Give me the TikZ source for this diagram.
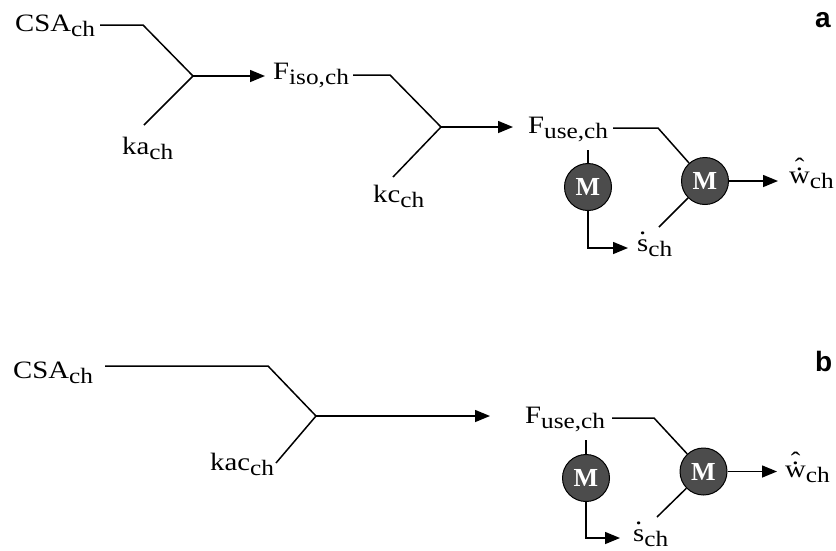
\documentclass[tikz,border=0pt]{standalone}
\usepackage{fontspec}
\setmainfont{Liberation Serif}
\newfontfamily\lbl{Liberation Serif}[FakeStretch=1.15]
\newfontfamily\mfont{Liberation Serif}
\newfontfamily\panelfont{Liberation Sans}
\usetikzlibrary{arrows.meta}

% subscript set in a slightly smaller size, dropped below the baseline
\newcommand\sbs[1]{\raisebox{-5pt}{\fontsize{22}{22}\selectfont #1}}
% s with a dot above
\newcommand\sdot{\ooalign{s\cr\hidewidth\raisebox{17pt}{.}\hidewidth\cr}}
% w with a dot and a hat above
\newcommand\wdothat{\ooalign{w\cr\hidewidth\raisebox{13pt}{.}\hidewidth\cr\hidewidth\raisebox{8pt}{\char"02C6}\hidewidth\cr}}

\tikzset{
  lab/.style={inner sep=0pt, anchor=base west, font=\lbl\fontsize{25}{25}\selectfont},
  panel/.style={inner sep=0pt, anchor=base west, font=\panelfont\bfseries\fontsize{28}{28}\selectfont},
  mod/.style={circle, draw=black, line width=1pt, fill=black!70, minimum size=47pt, inner sep=0pt,
              text=white, font=\mfont\bfseries\fontsize{26}{26}\selectfont},
  wire/.style={line width=1.5pt},
  flow/.style={wire, -{Triangle[length=15pt,width=12pt]}},
}

\begin{document}
\begin{tikzpicture}[x=1pt,y=-1pt]
\useasboundingbox (0,0) rectangle (836,550);

% ---------------- panel a ----------------
\node[panel] (pa) at (815,27) {a};
\node[lab] (csaA) at (15,31) {CSA\sbs{ch}};
\node[lab] (kaA) at (122,154) {ka\sbs{ch}};
\node[lab] (fisoA) at (273,79) {F\sbs{iso,ch}};
\node[lab] (kcA) at (373,202) {kc\sbs{ch}};
\node[lab] (fuseA) at (528,133) {F\sbs{use,ch}};
\node[lab] (sA) at (637,251) {\sdot\sbs{ch}};
\node[lab] (wA) at (789,183) {\wdothat\sbs{ch}};
\node[mod] (m1) at (588,187) {M};
\node[mod] (m2) at (705,181) {M};

\coordinate (csaAout) at (100,25);
\coordinate (csaAbend) at (143,25);
\coordinate (j1) at (193,76);
\coordinate (kaAout) at (144,125);
\coordinate (fisoAin) at (265,76);
\coordinate (fisoAout) at (353,75);
\coordinate (fisoAbend) at (390,75);
\coordinate (j2) at (441,127);
\coordinate (kcAout) at (393,177);
\coordinate (fuseAin) at (513,127);
\coordinate (fuseAout) at (613,128);
\coordinate (fuseAbend) at (658,128);
\coordinate (fuseAtick) at (588,150);
\coordinate (m1corner) at (588,248);
\coordinate (sAin) at (628,248);
\coordinate (sAout) at (659,227);
\coordinate (wAin) at (778,181);

\draw[wire] (csaAout) -- (csaAbend) -- (j1);
\draw[wire] (kaAout) -- (j1);
\draw[flow] (j1) -- (fisoAin);
\draw[wire] (fisoAout) -- (fisoAbend) -- (j2);
\draw[wire] (kcAout) -- (j2);
\draw[flow] (j2) -- (fuseAin);
\draw[wire] (fuseAout) -- (fuseAbend) -- (m2);
\draw[wire] (fuseAtick) -- (m1.north);
\draw[flow] (m1.south) -- (m1corner) -- (sAin);
\draw[wire] (sAout) -- (m2);
\draw[flow] (m2.east) -- (wAin);

% ---------------- panel b ----------------
\node[panel] (pb) at (815,371) {b};
\node[lab] (csaB) at (13,378) {CSA\sbs{ch}};
\node[lab] (kacB) at (210,470) {kac\sbs{ch}};
\node[lab] (fuseB) at (525,423) {F\sbs{use,ch}};
\node[lab] (sB) at (633,541) {\sdot\sbs{ch}};
\node[lab] (wB) at (785,477) {\wdothat\sbs{ch}};
\node[mod] (m3) at (586,478) {M};
\node[mod] (m4) at (703.5,471.5) {M};

\coordinate (csaBout) at (105,366);
\coordinate (csaBbend) at (268,366);
\coordinate (j3) at (316,416);
\coordinate (kacBout) at (276,463);
\coordinate (fuseBin) at (490,416);
\coordinate (fuseBout) at (612,418);
\coordinate (fuseBbend) at (654,418);
\coordinate (fuseBtick) at (586,440);
\coordinate (m3corner) at (586,538);
\coordinate (sBin) at (620,538);
\coordinate (sBout) at (657,517);
\coordinate (wBin) at (777,471.5);

\draw[wire] (csaBout) -- (csaBbend) -- (j3);
\draw[wire] (kacBout) -- (j3);
\draw[flow] (j3) -- (fuseBin);
\draw[wire] (fuseBout) -- (fuseBbend) -- (m4);
\draw[wire] (fuseBtick) -- (m3.north);
\draw[flow] (m3.south) -- (m3corner) -- (sBin);
\draw[wire] (sBout) -- (m4);
\draw[flow] (m4.east) -- (wBin);
\end{tikzpicture}
\end{document}
